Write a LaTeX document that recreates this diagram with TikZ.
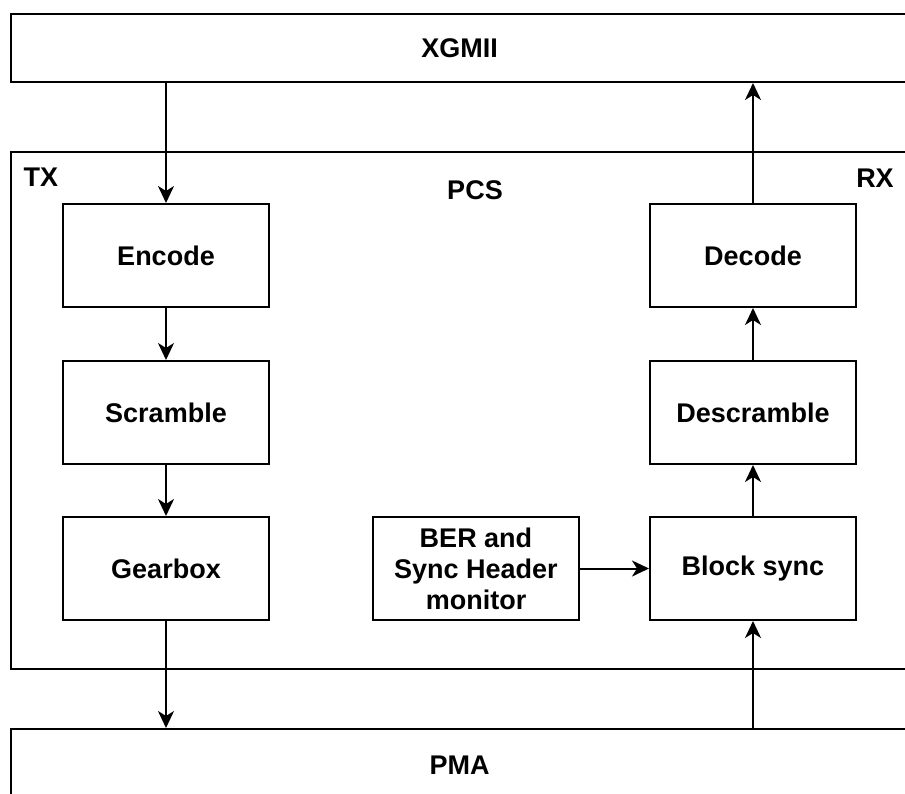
\documentclass[tikz,border=0pt]{standalone}
\usepackage{fontspec}
\setmainfont{Liberation Sans}
\usetikzlibrary{arrows.meta}
\begin{document}
\begin{tikzpicture}[x=1pt,y=-1pt,
  every node/.style={font=\bfseries\fontsize{27}{31}\selectfont},
  frame/.style={draw, line width=2pt, anchor=north west, inner sep=0pt},
  block/.style={draw, line width=2pt, minimum width=206pt, minimum height=103pt,
                align=center, inner sep=0pt, anchor=north west},
  flow/.style={line width=2pt, -{Stealth[length=17pt,width=16pt,inset=5pt]}},
  tag/.style={inner sep=0pt}]
  \useasboundingbox (0,0) rectangle (905,793);

  % outer layers
  \node[frame, minimum width=897pt, minimum height=68pt] (xgmii) at (10,13) {XGMII};
  \node[frame, minimum width=897pt, minimum height=517pt] (pcs) at (10,151) {};
  \node[frame, minimum width=897pt, minimum height=72pt] (pma) at (10,728) {PMA};

  % labels inside the PCS layer
  \node[tag] (tx) at (41,177) {TX};
  \node[tag] (rx) at (875,178) {RX};
  \node[tag] (pcslbl) at (475,190) {PCS};

  % transmit path
  \node[block] (enc) at (62,203) {Encode};
  \node[block] (scr) at (62,360) {Scramble};
  \node[block] (gear) at (62,516) {Gearbox};

  % receive path
  \node[block] (dec) at (649,203) {Decode};
  \node[block] (dscr) at (649,360) {Descramble};
  \node[block] (bsync) at (649,516) {Block sync};
  \node[block] (ber) at (372,516) {BER and\\Sync Header\\monitor};

  % connections
  \draw[flow] (enc.north |- xgmii.south) -- (enc.north);
  \draw[flow] (enc) -- (scr);
  \draw[flow] (scr) -- (gear);
  \draw[flow] (gear.south) -- (gear.south |- pma.north);

  \draw[flow] (bsync.south |- pma.north) -- (bsync.south);
  \draw[flow] (bsync) -- (dscr);
  \draw[flow] (dscr) -- (dec);
  \draw[flow] (dec.north) -- (dec.north |- xgmii.south);
  \draw[flow] (ber.east) -- (bsync.west);
\end{tikzpicture}
\end{document}
